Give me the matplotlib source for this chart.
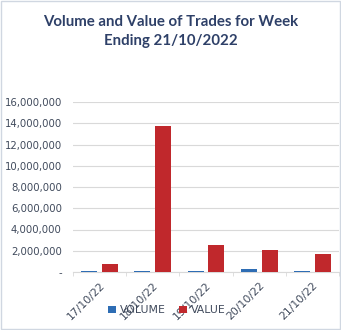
import matplotlib
matplotlib.use("Agg")
import matplotlib.pyplot as plt
import numpy as np
from matplotlib.patches import Rectangle
from matplotlib.ticker import FuncFormatter, FixedLocator

dates = ["17/10/22", "18/10/22", "19/10/22", "20/10/22", "21/10/22"]
volume = [100000, 110000, 90000, 250000, 100000]
value = [750000, 13700000, 2500000, 2050000, 1650000]
yticks = [0, 2000000, 4000000, 6000000, 8000000, 10000000, 12000000, 14000000, 16000000]

fig = plt.figure(figsize=(3.41, 3.30), dpi=100)
fig.patch.set_facecolor("white")
fig.patches.append(Rectangle((0.002, 0.002), 0.996, 0.994, transform=fig.transFigure,
                             fill=False, edgecolor="#D0D7E1", linewidth=1.0))

ax = fig.add_axes([73/341, 1-272/330, 266/341, 170/330])
x = np.arange(len(dates))
w = 0.30
ax.bar(x - 0.195, volume, width=w, color="#2E6DB4", label="VOLUME", zorder=3)
ax.bar(x + 0.195, value, width=w, color="#C0282C", label="VALUE", zorder=3)

ax.set_xlim(-0.5, len(dates) - 0.5)
ax.set_ylim(0, 16000000)
ax.yaxis.set_major_locator(FixedLocator(yticks))
ax.yaxis.set_major_formatter(FuncFormatter(lambda v, p: "-" if v == 0 else f"{int(v):,}"))
ax.grid(axis="y", color="#D9D9D9", linewidth=0.8, zorder=0)
for s in ["top", "right", "left"]:
    ax.spines[s].set_visible(False)
ax.spines["bottom"].set_color("#D9D9D9")
ax.tick_params(axis="y", length=0, labelsize=7.3, labelcolor="#404A5C", pad=8)

ax.set_xticks(x)
ax.set_xticklabels(dates, rotation=45, ha="right", rotation_mode="anchor",
                   fontsize=7.8, color="#404A5C")
ax.tick_params(axis="x", length=0, pad=6)
ax.set_xticks(np.arange(len(dates) + 1) - 0.5, minor=True)
ax.tick_params(axis="x", which="minor", length=3, color="#D9D9D9")

fig.text(0.5, 0.905, "Volume and Value of Trades for Week\nEnding 21/10/2022",
         ha="center", va="center", fontsize=10.8, fontweight="bold", color="#2E4068",
         family="Lato", linespacing=1.5)

leg = fig.legend(loc="center", bbox_to_anchor=(0.49, 0.06), ncol=2, frameon=False,
                 fontsize=7.8, handlelength=0.7, handleheight=0.7, columnspacing=1.2,
                 handletextpad=0.4)
for t in leg.get_texts():
    t.set_color("#404A5C")

fig.savefig("out.png", dpi=100)
